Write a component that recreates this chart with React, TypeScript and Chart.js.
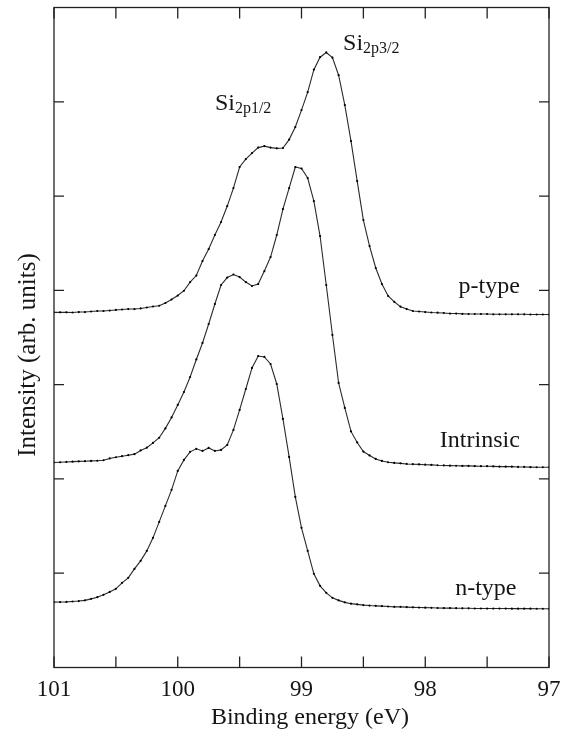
import React, { useEffect, useRef } from 'react';
import { Chart, registerables } from 'chart.js';

Chart.register(...registerables);

const energy = [
  101.0, 100.95, 100.9, 100.85, 100.8, 100.75, 100.7, 100.65, 100.6, 100.55,
  100.5, 100.45, 100.4, 100.35, 100.3, 100.25, 100.2, 100.15, 100.1, 100.05,
  100.0, 99.95, 99.9, 99.85, 99.8, 99.75, 99.7, 99.65, 99.6, 99.55,
  99.5, 99.45, 99.4, 99.35, 99.3, 99.25, 99.2, 99.15, 99.1, 99.05,
  99.0, 98.95, 98.9, 98.85, 98.8, 98.75, 98.7, 98.65, 98.6, 98.55,
  98.5, 98.45, 98.4, 98.35, 98.3, 98.25, 98.2, 98.15, 98.1, 98.05,
  98.0, 97.95, 97.9, 97.85, 97.8, 97.75, 97.7, 97.65, 97.6, 97.55,
  97.5, 97.45, 97.4, 97.35, 97.3, 97.25, 97.2, 97.15, 97.1, 97.05,
  97.0,
];

const pType = [
  3.767, 3.767, 3.767, 3.765, 3.77, 3.77, 3.776, 3.781, 3.781, 3.786,
  3.792, 3.797, 3.802, 3.802, 3.808, 3.818, 3.829, 3.837, 3.866, 3.903,
  3.945, 3.996, 4.088, 4.157, 4.311, 4.438, 4.587, 4.725, 4.894, 5.085,
  5.308, 5.392, 5.456, 5.514, 5.53, 5.514, 5.506, 5.509, 5.599, 5.732,
  5.912, 6.102, 6.341, 6.473, 6.523, 6.468, 6.282, 5.965, 5.583, 5.159,
  4.746, 4.47, 4.237, 4.067, 3.94, 3.877, 3.827, 3.802, 3.781, 3.776,
  3.77, 3.765, 3.763, 3.76, 3.754, 3.754, 3.751, 3.749, 3.749, 3.749,
  3.749, 3.746, 3.746, 3.746, 3.746, 3.746, 3.746, 3.744, 3.744, 3.744,
  3.744,
];

const intrinsic = [
  2.175, 2.177, 2.18, 2.183, 2.186, 2.188, 2.191, 2.193, 2.198, 2.217,
  2.23, 2.241, 2.252, 2.263, 2.302, 2.331, 2.382, 2.437, 2.536, 2.652,
  2.785, 2.922, 3.081, 3.267, 3.442, 3.643, 3.855, 4.057, 4.136, 4.168,
  4.141, 4.088, 4.046, 4.067, 4.205, 4.353, 4.587, 4.862, 5.085, 5.308,
  5.292, 5.191, 4.947, 4.576, 4.057, 3.527, 3.018, 2.753, 2.504, 2.387,
  2.29, 2.249, 2.212, 2.191, 2.177, 2.17, 2.165, 2.159, 2.156, 2.154,
  2.151, 2.149, 2.145, 2.143, 2.141, 2.14, 2.138, 2.138, 2.136, 2.135,
  2.135, 2.133, 2.131, 2.13, 2.13, 2.127, 2.127, 2.125, 2.124, 2.124,
  2.124,
];

const nType = [
  0.693, 0.694, 0.696, 0.7, 0.705, 0.712, 0.728, 0.746, 0.771, 0.802,
  0.834, 0.898, 0.951, 1.046, 1.131, 1.237, 1.375, 1.544, 1.714, 1.884,
  2.085, 2.202, 2.287, 2.319, 2.297, 2.329, 2.297, 2.308, 2.361, 2.52,
  2.732, 2.954, 3.177, 3.304, 3.294, 3.219, 3.007, 2.636, 2.233, 1.809,
  1.481, 1.237, 0.993, 0.866, 0.792, 0.739, 0.712, 0.691, 0.677, 0.67,
  0.662, 0.657, 0.654, 0.651, 0.647, 0.643, 0.643, 0.64, 0.638, 0.636,
  0.635, 0.633, 0.631, 0.63, 0.63, 0.629, 0.628, 0.628, 0.626, 0.626,
  0.625, 0.625, 0.625, 0.625, 0.624, 0.624, 0.624, 0.624, 0.623, 0.623,
  0.623,
];

const xMajorTicks = [101, 100, 99, 98, 97];
const xMinorTicks = [100.5, 99.5, 98.5, 97.5];
const yTicks = [1, 2, 3, 4, 5, 6];
const xTitle = 'Binding energy (eV)';
const yTitle = 'Intensity (arb. units)';

const curveLabels = [
  { text: 'p-type', x: 97.236, y: 3.969 },
  { text: 'Intrinsic', x: 97.236, y: 2.343 },
  { text: 'n-type', x: 97.263, y: 0.771 },
];

const peakLabels = [
  { main: 'Si', sub: '2p3/2', x: 98.664, y: 6.548 },
  { main: 'Si', sub: '2p1/2', x: 99.7, y: 5.912 },
];

const FONT = '"Liberation Serif", "Times New Roman", Times, serif';
const INK = '#151515';

const framePlugin = {
  id: 'xpsFrame',
  afterDatasetsDraw(chart: any) {
    const { ctx, chartArea: a, scales } = chart;
    const xs = scales.x;
    const ys = scales.y;
    ctx.save();
    ctx.strokeStyle = '#222';
    ctx.lineWidth = 1.3;
    ctx.strokeRect(a.left, a.top, a.right - a.left, a.bottom - a.top);
    ctx.beginPath();
    [...xMajorTicks, ...xMinorTicks].forEach((v) => {
      const px = xs.getPixelForValue(v);
      ctx.moveTo(px, a.bottom);
      ctx.lineTo(px, a.bottom - 11);
      ctx.moveTo(px, a.top);
      ctx.lineTo(px, a.top + 11);
    });
    yTicks.forEach((v) => {
      const py = ys.getPixelForValue(v);
      ctx.moveTo(a.left, py);
      ctx.lineTo(a.left + 10, py);
      ctx.moveTo(a.right, py);
      ctx.lineTo(a.right - 10, py);
    });
    ctx.stroke();

    ctx.fillStyle = INK;
    ctx.textBaseline = 'alphabetic';

    // x tick labels
    ctx.font = `23px ${FONT}`;
    ctx.textAlign = 'center';
    xMajorTicks.forEach((v) => {
      ctx.fillText(String(v), xs.getPixelForValue(v), a.bottom + 28);
    });

    // x title
    ctx.font = `24px ${FONT}`;
    ctx.fillText(xTitle, (a.left + a.right) / 2 + 8.5, a.bottom + 56.5);

    // y title
    ctx.save();
    ctx.translate(35, (a.top + a.bottom) / 2 + 17.5);
    ctx.rotate(-Math.PI / 2);
    ctx.font = `25px ${FONT}`;
    ctx.textAlign = 'center';
    ctx.fillText(yTitle, 0, 0);
    ctx.restore();

    // curve labels
    ctx.font = `24px ${FONT}`;
    ctx.textAlign = 'right';
    curveLabels.forEach((l) => {
      ctx.fillText(l.text, xs.getPixelForValue(l.x), ys.getPixelForValue(l.y));
    });

    // peak labels
    ctx.textAlign = 'left';
    peakLabels.forEach((l) => {
      const px = xs.getPixelForValue(l.x);
      const py = ys.getPixelForValue(l.y);
      ctx.font = `24px ${FONT}`;
      ctx.fillText(l.main, px, py);
      const w = ctx.measureText(l.main).width;
      ctx.font = `16px ${FONT}`;
      ctx.fillText(l.sub, px + w, py + 3);
    });
    ctx.restore();
  },
};

function makeSeries(values: number[]) {
  return energy.map((e, i) => ({ x: e, y: values[i] }));
}

export default function App() {
  const ref = useRef<HTMLCanvasElement | null>(null);

  useEffect(() => {
    if (!ref.current) return;
    const common = {
      borderColor: '#2a2a2a',
      borderWidth: 1.1,
      pointRadius: 1.1,
      pointBackgroundColor: '#000',
      pointBorderWidth: 0,
      pointStyle: 'circle' as const,
      tension: 0,
      fill: false,
    };
    const chart = new Chart(ref.current, {
      type: 'line',
      data: {
        datasets: [
          { label: 'p-type', data: makeSeries(pType), ...common },
          { label: 'Intrinsic', data: makeSeries(intrinsic), ...common },
          { label: 'n-type', data: makeSeries(nType), ...common },
        ],
      },
      options: {
        animation: false,
        responsive: false,
        devicePixelRatio: 1,
        parsing: false as any,
        layout: { padding: { left: 54, right: 12, top: 7.5, bottom: 72.5 } },
        plugins: {
          legend: { display: false },
          tooltip: { enabled: false },
        },
        scales: {
          x: { type: 'linear', min: 97, max: 101, reverse: true, display: false },
          y: { type: 'linear', min: 0, max: 7, display: false },
        },
      },
      plugins: [framePlugin],
    });
    return () => chart.destroy();
  }, []);

  return (
    <div style={{ position: 'absolute', left: 0, top: 0, width: 561, height: 740, background: '#fff' }}>
      <canvas ref={ref} width={561} height={740} style={{ display: 'block', width: 561, height: 740 }} />
    </div>
  );
}
